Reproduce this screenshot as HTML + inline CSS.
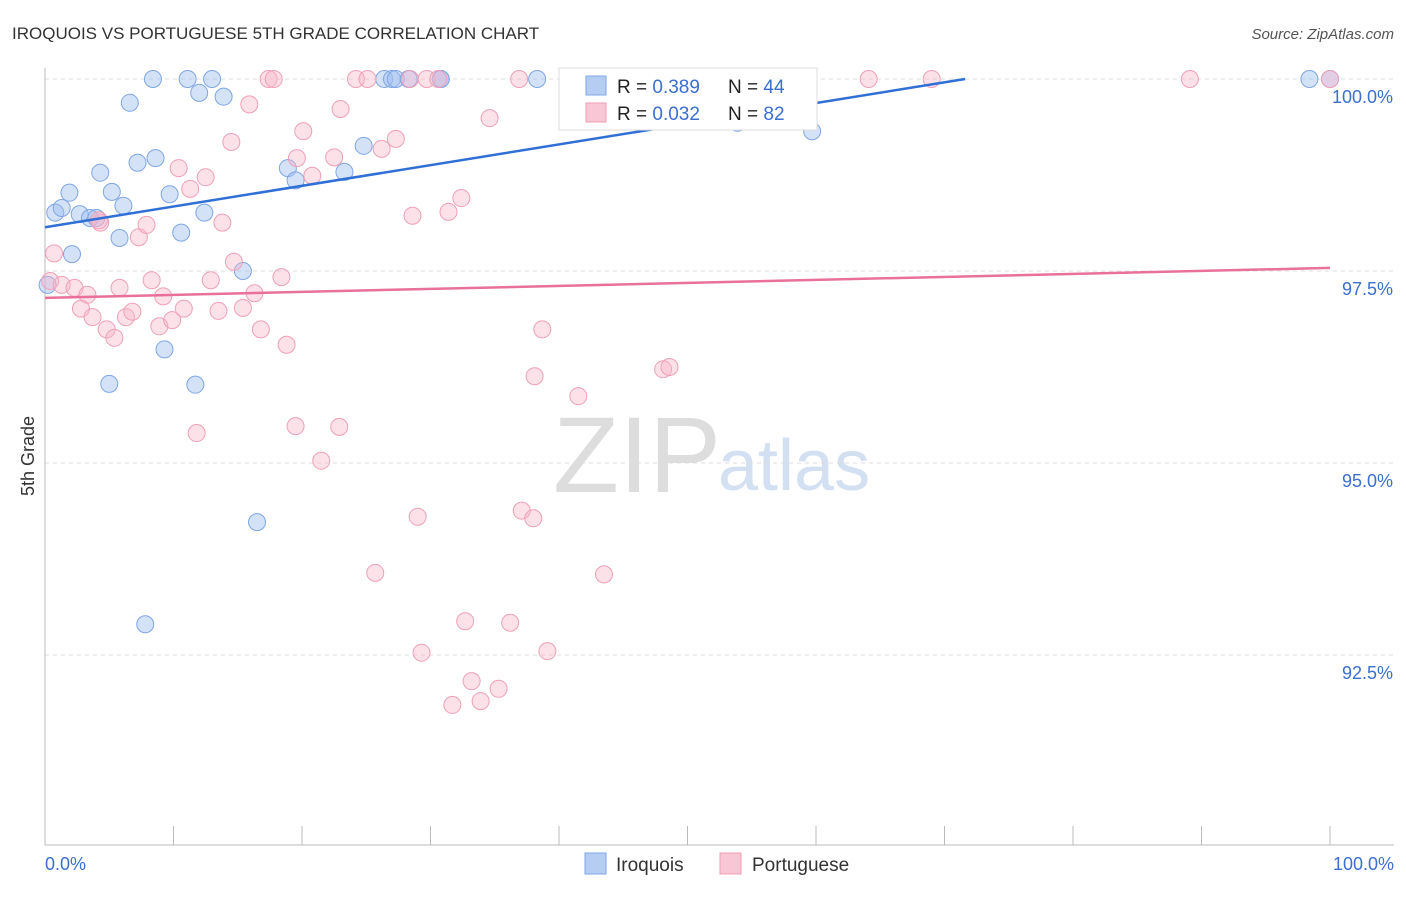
<!DOCTYPE html>
<html><head><meta charset="utf-8">
<style>
body{margin:0;background:#fff;font-family:"Liberation Sans",sans-serif;}
svg text{font-family:"Liberation Sans",sans-serif;}
</style></head>
<body>
<svg width="1406" height="892" id="chart">
<text x="12" y="39" font-size="17" fill="#333">IROQUOIS VS PORTUGUESE 5TH GRADE CORRELATION CHART</text>
<text x="1394" y="39" font-size="15" fill="#555" font-style="italic" text-anchor="end">Source: ZipAtlas.com</text>
<text x="553" y="492" font-size="108" fill="#ddd" font-family="Liberation Serif">ZIP</text>
<text x="718" y="490" font-size="72" fill="#d3e0f2">atlas</text>
<text transform="translate(34,456) rotate(-90)" font-size="18" fill="#333" text-anchor="middle">5th Grade</text>
<g id="grid"></g><g id="axes"></g><g id="pts"></g><g id="lines"></g>
<g>
<rect x="559" y="68" width="258" height="62" fill="#fff" stroke="#ddd"/>
<rect x="586" y="76" width="20" height="19" fill="#b5cdf3" stroke="#7fa6e4"/>
<rect x="586" y="103" width="20" height="19" fill="#f9c6d5" stroke="#ef9db5"/>
<text x="617" y="93" font-size="19" fill="#222">R = <tspan fill="#3a6fd0">0.389</tspan><tspan x="728">N = </tspan><tspan fill="#3a6fd0">44</tspan></text>
<text x="617" y="120" font-size="19" fill="#222">R = <tspan fill="#3a6fd0">0.032</tspan><tspan x="728">N = </tspan><tspan fill="#3a6fd0">82</tspan></text>
</g>
<g>
<rect x="585" y="853" width="21" height="21" fill="#b5cdf3" stroke="#7fa6e4"/>
<text x="616" y="871" font-size="19" fill="#333">Iroquois</text>
<rect x="720" y="853" width="21" height="21" fill="#f9c6d5" stroke="#ef9db5"/>
<text x="752" y="871" font-size="19" fill="#333">Portuguese</text>
</g>
</svg>
<script>
const yTicks=[100,97.5,95,92.5];
const yTickLabels=["100.0%","97.5%","95.0%","92.5%"];
const xTickLabels=["0.0%","100.0%"];
const iroquoisX=[8.4,11.1,13,26.4,27,27.3,28.3,30.8,38.3,98.4,100,6.6,12,13.9,53.9,59.7,24.8,8.6,7.2,4.3,18.9,19.5,23.3,1.9,5.2,9.7,6.1,0.8,1.3,2.7,3.5,4,12.4,10.6,5.8,2.1,15.4,0.2,9.3,5,11.7,16.5,7.8,30.8];
const iroquoisY=[100,100,100,100,100,100,100,100,100,100,100,99.69,99.82,99.77,99.43,99.32,99.13,98.97,98.91,98.78,98.84,98.68,98.79,98.52,98.53,98.5,98.35,98.26,98.32,98.24,98.19,98.19,98.26,98.0,97.93,97.72,97.5,97.32,96.48,96.03,96.02,94.23,92.9,100];
const portugueseX=[0.7,0.4,1.3,2.3,3.3,2.8,3.7,4.8,5.4,5.8,6.3,6.8,7.3,7.9,8.3,8.9,9.2,9.9,10.8,10.4,11.3,12.5,12.9,13.5,13.8,14.5,14.7,15.4,15.9,16.3,16.8,18.4,18.8,17.4,17.8,20.1,19.6,20.8,22.5,23,24.2,25.1,26.2,27.3,28.6,29.7,30.6,31.4,32.4,34.6,36.9,38.7,38.1,41.5,48.1,48.6,45.4,43.5,64.1,69,89.1,100,11.8,19.5,22.9,21.5,29,37.1,38,25.7,43.5,32.7,36.2,29.3,39.1,33.2,35.3,31.7,33.9,4.3,4.2,28.4];
const portugueseY=[97.73,97.37,97.32,97.28,97.19,97.01,96.9,96.74,96.63,97.28,96.9,96.97,97.94,98.1,97.38,96.78,97.17,96.86,97.01,98.84,98.57,98.72,97.38,96.98,98.13,99.18,97.62,97.02,99.67,97.21,96.74,97.42,96.54,100,100,99.32,98.97,98.74,98.98,99.61,100,100,99.09,99.22,98.22,100,100,98.27,98.45,99.49,100,96.74,96.13,95.87,96.22,96.25,100,100,100,100,100,100,95.39,95.48,95.47,95.03,94.3,94.38,94.28,93.57,93.55,92.94,92.92,92.53,92.55,92.16,92.06,91.85,91.9,98.13,98.16,100];
const blueLine=[0,98.07,71.6,100];
const pinkLine=[0,97.15,100,97.54];
const svg=document.getElementById('chart');
const NS='http://www.w3.org/2000/svg';
const xs=v=>45+v*12.85;
const ys=v=>79+(100-v)*76.8;
function mk(tag,attrs,parent){const e=document.createElementNS(NS,tag);for(const k in attrs)e.setAttribute(k,attrs[k]);document.getElementById(parent).appendChild(e);return e;}
yTicks.forEach((t,i)=>{
 const g=mk('line',{x1:45,x2:1394,y1:ys(t),y2:ys(t),stroke:'#ddd','stroke-dasharray':'4,4'},'grid');
 
 
 const tx=mk('text',{x:1393,y:ys(t)+24,'font-size':18,fill:'#3a6fd0','text-anchor':'end'},'axes');
 tx.textContent=yTickLabels[i];
 
 
});
const ax=mk('line',{x1:45,x2:45,y1:68,y2:845,stroke:'#bbb'},'axes');


const bx=mk('line',{x1:45,x2:1394,y1:845,y2:845,stroke:'#bbb'},'axes');


for(let i=0;i<=10;i++){const t=mk('line',{x1:xs(i*10),x2:xs(i*10),y1:826,y2:845,stroke:'#bbb'},'axes');
 
 }
[[0,'start',45],[100,'end',1394]].forEach((d,i)=>{const t=mk('text',{x:d[2],y:870,'font-size':18,fill:'#3a6fd0','text-anchor':d[1]},'axes');t.textContent=xTickLabels[i];
 
 });
iroquoisX.forEach((v,i)=>{const c=mk('circle',{cx:xs(v),cy:ys(iroquoisY[i]),r:8.5,fill:'rgba(160,190,240,0.45)',stroke:'#7fa6e4','stroke-width':1},'pts');
 
 });
portugueseX.forEach((v,i)=>{const c=mk('circle',{cx:xs(v),cy:ys(portugueseY[i]),r:8.5,fill:'rgba(248,180,200,0.4)',stroke:'#efa0b8','stroke-width':1},'pts');
 
 });
const bl=mk('line',{x1:xs(blueLine[0]),y1:ys(blueLine[1]),x2:xs(blueLine[2]),y2:ys(blueLine[3]),stroke:'#2f6fd6','stroke-width':2.5},'lines');


const pl=mk('line',{x1:xs(pinkLine[0]),y1:ys(pinkLine[1]),x2:xs(pinkLine[2]),y2:ys(pinkLine[3]),stroke:'#e8709a','stroke-width':2.5},'lines');


</script>
</body></html>
